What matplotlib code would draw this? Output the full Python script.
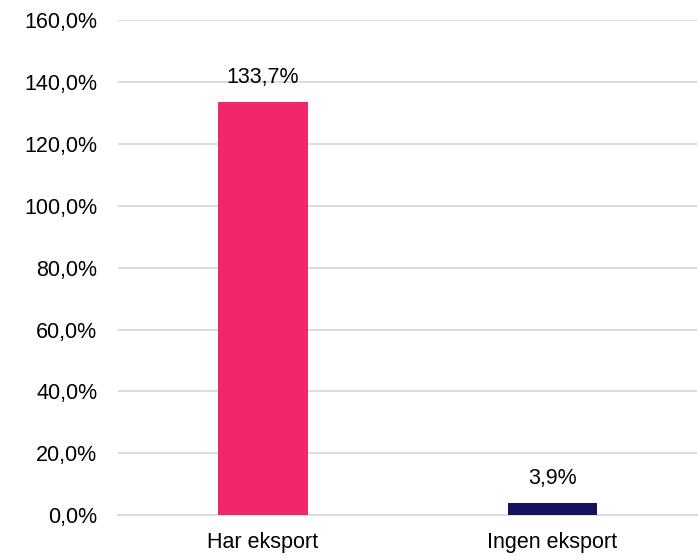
import matplotlib.pyplot as plt
from matplotlib.ticker import FuncFormatter, MultipleLocator

categories = ["Har eksport", "Ingen eksport"]
values = [133.7, 3.9]
colors = ["#F0286A", "#13135E"]

plt.rcParams["font.family"] = ["Liberation Sans", "DejaVu Sans"]

fig = plt.figure(figsize=(7, 5.6), dpi=100)
ax = fig.add_axes([0.169, 0.080, 0.827, 0.884])

x = range(len(categories))
bars = ax.bar(x, values, width=0.31, color=colors, zorder=3)

for rect, v in zip(bars, values):
    ax.annotate(
        f"{v:.1f}%".replace(".", ","),
        xy=(rect.get_x() + rect.get_width() / 2, rect.get_height()),
        xytext=(0, 10),
        textcoords="offset points",
        ha="center",
        va="bottom",
        fontsize=15.5,
    )

ax.set_xlim(-0.5, 1.5)
ax.set_ylim(0, 160)
ax.yaxis.set_major_locator(MultipleLocator(20))
ax.yaxis.set_major_formatter(FuncFormatter(lambda v, _: f"{v:.1f}%".replace(".", ",")))
ax.set_xticks(list(x))
ax.set_xticklabels(categories)

ax.grid(axis="y", color="#D9D9D9", linewidth=1.3, zorder=0)
for side in ["top", "right", "left"]:
    ax.spines[side].set_visible(False)
ax.spines["bottom"].set_color("#D9D9D9")
ax.spines["bottom"].set_linewidth(1.3)
ax.tick_params(axis="both", length=0, labelsize=15.5, colors="black")
ax.tick_params(axis="y", pad=15)
ax.tick_params(axis="x", pad=12)

fig.savefig("out.png", dpi=100)
